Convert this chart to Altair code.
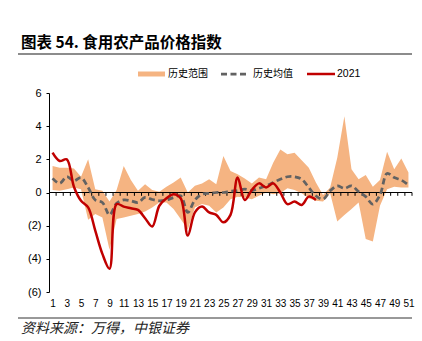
import altair as alt
import pandas as pd

# ---------------- data ----------------
weeks = list(range(1, 52))
hist_high = [1.6, 1.5, 1.5, 1.45, 0.95, 2.0, 0.2, 0.1, -0.55, 0.15,
             1.6, 0.75, 0.1, 0.5, 0.15, 0.05, 0.35, 0.6, 0.9, 0.0,
             0.4, 0.55, 0.8, 0.5, 2.2, 1.3, 1.1, 0.85, 0.55, 0.9,
             0.8, 1.8, 2.6, 2.3, 2.4, 1.95, 1.5, 0.6, -0.15, 0.3,
             2.1, 4.6, 1.4, 0.8, 1.05, 0.35, 0.75, 2.45, 1.4, 2.05, 1.2]
hist_low = [0.15, 0.1, 0.2, 0.3, 0.2, -1.65, -1.3, -1.5, -3.45, -1.6,
            -1.5, -1.4, -1.3, -1.15, -0.9, -0.6, -0.6, -1.0, -1.6, -2.25,
            -0.9, -0.7, -0.8, -1.2, -0.9, -0.4, -0.25, -0.3, -0.4, -0.2,
            0.0, -0.1, -0.05, 0.25, 0.15, -0.05, -0.35, -0.5, -0.55, -0.05,
            -1.75, -1.35, -1.0, -0.6, -2.8, -2.95, -0.8, 0.2, 0.35, 0.3, 0.3]
hist_mean = [0.85, 0.55, 0.95, 0.7, 0.9, 0.3, -0.45, -0.6, -1.35, -0.65,
             -0.45, -0.5, -0.6, -0.3, -0.42, -0.5, -0.45, -0.3, -0.2, -1.2,
             -0.45, -0.1, -0.05, 0.0, 0.0, 0.08, 0.12, 0.2, 0.12, 0.26,
             0.4, 0.6, 0.8, 0.95, 0.95, 0.8, 0.3, -0.2, -0.4, 0.1,
             0.4, 0.25, 0.4, 0.05, -0.25, -0.7, -0.15, 1.15, 0.9, 0.75, 0.45]
y2021 = [2.4, 1.9, 2.0, 0.35, -0.5, -0.9, -2.3, -3.7, -4.6, -0.7,
         -0.85, -0.95, -1.05, -1.55, -2.05, -0.8, -0.35, -0.1, -0.35, -2.6,
         -1.2, -0.85, -1.2, -1.35, -1.8, -1.35, 0.9, -0.45, 0.15, 0.55,
         0.3, 0.55, 0.0, -0.7, -0.55, -0.75, -0.25, -0.45]
x_labels = list(range(1, 52, 2))
y_ticks = [-6, -4, -2, 0, 2, 4, 6]

title_text = "图表 54. 食用农产品价格指数"
source_text = "资料来源：万得，中银证券"
legend_names = ["历史范围", "历史均值", "2021"]

BAND = "#F5B482"
MEAN = "#626262"
RED = "#C00000"
W, H = 363, 199

df = pd.DataFrame({"week": weeks, "high": hist_high, "low": hist_low, "mean": hist_mean})
df21 = pd.DataFrame({"week": weeks[:len(y2021)], "v": y2021})
ticks_df = pd.DataFrame({"week": [w + 0.5 for w in weeks]})
zero_df = pd.DataFrame({"y": [0]})
one = pd.DataFrame({"a": [0]})

xs = alt.Scale(domain=[0.5, 51.5], nice=False, zero=False)
ys = alt.Scale(domain=[-6, 6], nice=False, zero=False)

x_axis = alt.Axis(values=x_labels, ticks=False, domain=False, grid=False,
                  labelOverlap=False, labelPadding=6, labelFontSize=10,
                  labelFont="Liberation Sans", labelColor="black", title=None)
y_axis = alt.Axis(values=y_ticks, grid=False, tickSize=3, tickColor="black",
                  domainColor="black", labelPadding=5, labelFontSize=11,
                  labelFont="Liberation Sans", labelColor="black", title=None,
                  labelExpr="datum.value < 0 ? '(' + abs(datum.value) + ')' : datum.value + '\u00a0'")


def X(field):
    return alt.X(field, type="quantitative", scale=xs, axis=x_axis)


def Y(field):
    return alt.Y(field, type="quantitative", scale=ys, axis=y_axis)


band = alt.Chart(df).mark_area(color=BAND, opacity=1, interpolate="linear").encode(
    x=X("week"), y=Y("low"), y2="high")

zero = alt.Chart(zero_df).mark_rule(color="black", strokeWidth=1).encode(
    y=Y("y"), x=alt.value(0), x2=alt.value(W))

ticks = alt.Chart(ticks_df).mark_rule(color="black", strokeWidth=1).encode(
    x=X("week"),
    y=alt.YDatum(0, type="quantitative", scale=ys, axis=y_axis),
    y2=alt.Y2Datum(-0.2))

mean_line = alt.Chart(df).mark_line(color=MEAN, strokeWidth=2.75, strokeDash=[6, 3.5],
                                    interpolate="catmull-rom").encode(
    x=X("week"), y=Y("mean"))

red_line = alt.Chart(df21).mark_line(color=RED, strokeWidth=2.5,
                                     interpolate="catmull-rom").encode(
    x=X("week"), y=Y("v"))

# ---------------- decorations ----------------
CJK = "Noto Sans CJK SC"
title = alt.Chart(one).mark_text(text=title_text, font=CJK, fontSize=15.5, fontWeight="bold",
                                 align="left", baseline="middle", color="black").encode(
    x=alt.value(-28), y=alt.value(-50))
title_rule = alt.Chart(one).mark_rule(color="#8c8c8c", strokeWidth=2).encode(
    x=alt.value(-31), x2=alt.value(W), y=alt.value(-39))
bottom_rule = alt.Chart(one).mark_rule(color="#333333", strokeWidth=1).encode(
    x=alt.value(-31), x2=alt.value(W), y=alt.value(225))
source = alt.Chart(one).mark_text(text=source_text, font=CJK, fontSize=14, fontStyle="italic",
                                  align="left", baseline="middle", color="#222222").encode(
    x=alt.value(-28), y=alt.value(236))

LY = -19
leg_band = alt.Chart(one).mark_rule(color=BAND, strokeWidth=5).encode(
    x=alt.value(89), x2=alt.value(116), y=alt.value(LY))
leg_band_t = alt.Chart(one).mark_text(text=legend_names[0], font=CJK, fontSize=10,
                                      align="left", baseline="middle", color="black").encode(
    x=alt.value(119), y=alt.value(LY))
leg_mean = alt.Chart(one).mark_rule(color=MEAN, strokeWidth=2.75, strokeDash=[6, 3.5]).encode(
    x=alt.value(172), x2=alt.value(199), y=alt.value(LY))
leg_mean_t = alt.Chart(one).mark_text(text=legend_names[1], font=CJK, fontSize=10,
                                      align="left", baseline="middle", color="black").encode(
    x=alt.value(204), y=alt.value(LY))
leg_red = alt.Chart(one).mark_rule(color=RED, strokeWidth=2.5).encode(
    x=alt.value(258), x2=alt.value(286), y=alt.value(LY))
leg_red_t = alt.Chart(one).mark_text(text=legend_names[2], font="Liberation Sans", fontSize=10.5,
                                     align="left", baseline="middle", color="black").encode(
    x=alt.value(288), y=alt.value(LY))

chart = alt.layer(
    band, zero, ticks, mean_line, red_line,
    title, title_rule, bottom_rule, source,
    leg_band, leg_band_t, leg_mean, leg_mean_t, leg_red, leg_red_t,
).properties(
    width=W, height=H,
    autosize=alt.AutoSizeParams(type="none"),
    padding={"left": 49, "top": 93, "right": 10, "bottom": 49},
    background="white",
).configure_view(stroke=None)

chart.save("out.html", embed_options={"renderer": "svg", "actions": False})
